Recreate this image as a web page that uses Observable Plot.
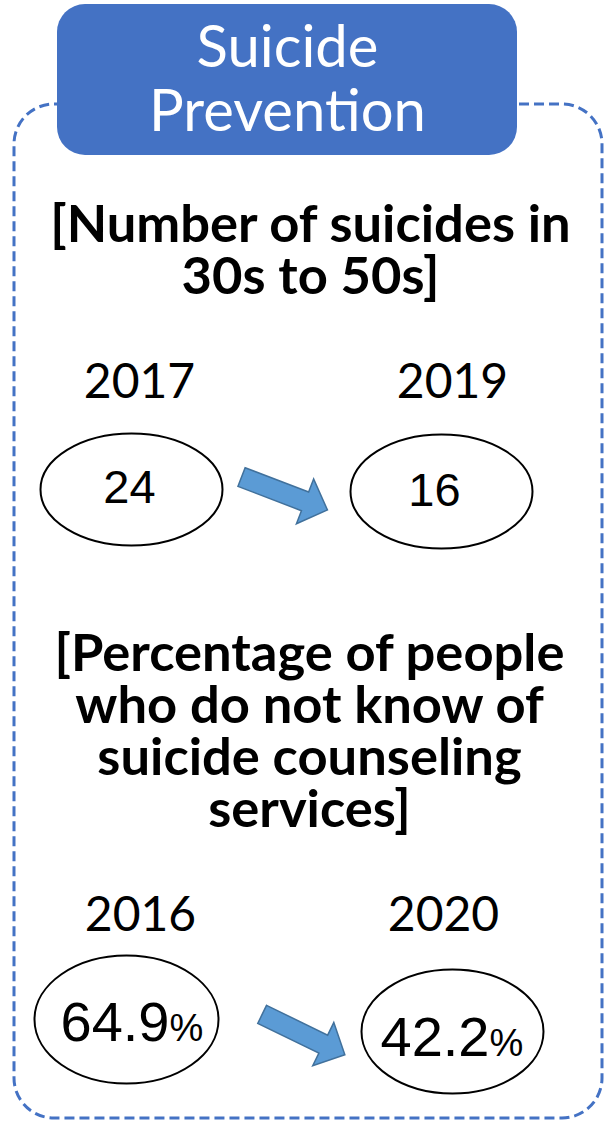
<!DOCTYPE html>
<html><head><meta charset="utf-8">
<script src="https://cdn.jsdelivr.net/npm/d3@7"></script>
<script src="https://cdn.jsdelivr.net/npm/@observablehq/plot@0.6"></script>
<style>html,body{margin:0;padding:0;background:#fff}</style>
</head><body><div id="chart"></div>
<script>
// ---- data ----
const titleLines = ["Suicide", "Prevention"];
const heading1 = ["[Number of suicides in", "30s to 50s]"];
const years1 = ["2017", "2019"];
const values1 = [24, 16];
const heading2 = ["[Percentage of people", "who do not know of", "suicide counseling", "services]"];
const years2 = ["2016", "2020"];
const values2 = [64.9, 42.2];

// ---- layout (pixels in a 606x1124 frame) ----
const W = 606, H = 1124;
const L = {
  frame: [{x1: 14, x2: 602, y1: 104, y2: 1118}],
  titleBox: [{x1: 57, x2: 517, y1: 4, y2: 155}],
  titleX: 287, titleY: [66, 130],
  h1X: 310, h1Y: [241, 293],
  yr1X: [139, 452], yr1Y: 397,
  e1: [{cx: 131, cy: 489, rx: 91, ry: 56}, {cx: 441, cy: 491, rx: 91, ry: 57}],
  v1X: [129, 434], v1Y: [502, 505],
  arrow1: {cx: 284, cy: 493, angle: 21},
  h2X: 309, h2Y: [670, 722, 774, 826],
  yr2X: [140, 443], yr2Y: 930,
  e2: [{cx: 126, cy: 1019, rx: 92, ry: 64}, {cx: 452, cy: 1031, rx: 91, ry: 62}],
  v2Split: [169, 489], v2Y: [1040, 1055],
  arrow2: {cx: 303, cy: 1034, angle: 26}
};

const BLUE = "#4472C4";
const headFont = "Lato", bodyFont = "Liberation Sans";

function ellipseSymbol(rx, ry) {
  const k = 0.5522847498;
  return {draw(ctx) {
    ctx.moveTo(rx, 0);
    ctx.bezierCurveTo(rx, k * ry, k * rx, ry, 0, ry);
    ctx.bezierCurveTo(-k * rx, ry, -rx, k * ry, -rx, 0);
    ctx.bezierCurveTo(-rx, -k * ry, -k * rx, -ry, 0, -ry);
    ctx.bezierCurveTo(k * rx, -ry, rx, -k * ry, rx, 0);
    ctx.closePath();
  }};
}
function blockArrowSymbol(len, shaft, head, headLen) {
  const a = len / 2, s = shaft / 2, h = head / 2, b = a - headLen;
  return {draw(ctx) {
    ctx.moveTo(-a, -s); ctx.lineTo(b, -s); ctx.lineTo(b, -h); ctx.lineTo(a, 0);
    ctx.lineTo(b, h); ctx.lineTo(b, s); ctx.lineTo(-a, s); ctx.closePath();
  }};
}

const ellipseMarks = (ells, vals) => ells.map((e, i) =>
  Plot.dot([vals[i]], {x: () => e.cx, y: () => e.cy, symbol: ellipseSymbol(e.rx, e.ry),
    fill: "white", stroke: "black", strokeWidth: 2}));

const arrowMark = (a) => Plot.dot([a], {x: () => a.cx, y: () => a.cy,
  symbol: blockArrowSymbol(92, 20, 48, 24), rotate: a.angle,
  fill: "#5B9BD5", stroke: "#41719C", strokeWidth: 1.5});

const chart = Plot.plot({
  width: W, height: H,
  margin: 0,
  x: {domain: [0, W], range: [0, W], axis: null},
  y: {domain: [0, H], range: [0, H], axis: null},
  style: {background: "white"},
  marks: [
    Plot.rect(L.frame, {x1: "x1", x2: "x2", y1: "y1", y2: "y2", rx: 40,
      fill: "none", stroke: BLUE, strokeWidth: 3, strokeDasharray: "10,5"}),
    Plot.rect(L.titleBox, {x1: "x1", x2: "x2", y1: "y1", y2: "y2", rx: 28, fill: BLUE}),
    Plot.text(titleLines, {x: () => L.titleX, y: (d, i) => L.titleY[i], text: d => d,
      lineAnchor: "bottom", fontSize: 58, fontFamily: headFont, fill: "white"}),
    Plot.text(heading1, {x: () => L.h1X, y: (d, i) => L.h1Y[i], text: d => d,
      lineAnchor: "bottom", fontSize: 52.5, fontWeight: "bold", fontFamily: headFont, fill: "black"}),
    Plot.text(years1, {x: (d, i) => L.yr1X[i], y: () => L.yr1Y, text: d => d,
      lineAnchor: "bottom", fontSize: 48, fontFamily: headFont, fill: "black"}),
    ...ellipseMarks(L.e1, values1),
    Plot.text(values1, {x: (d, i) => L.v1X[i], y: (d, i) => L.v1Y[i], text: d => String(d),
      lineAnchor: "bottom", fontSize: 47, fontFamily: bodyFont, fill: "black"}),
    arrowMark(L.arrow1),
    Plot.text(heading2, {x: () => L.h2X, y: (d, i) => L.h2Y[i], text: d => d,
      lineAnchor: "bottom", fontSize: 52.5, fontWeight: "bold", fontFamily: headFont, fill: "black"}),
    Plot.text(years2, {x: (d, i) => L.yr2X[i], y: () => L.yr2Y, text: d => d,
      lineAnchor: "bottom", fontSize: 48, fontFamily: headFont, fill: "black"}),
    ...ellipseMarks(L.e2, values2),
    Plot.text(values2, {x: (d, i) => L.v2Split[i], y: (d, i) => L.v2Y[i], text: d => d3.format(".1f")(d),
      lineAnchor: "bottom", textAnchor: "end", fontSize: 56, fontFamily: bodyFont, fill: "black"}),
    Plot.text(values2, {x: (d, i) => L.v2Split[i], y: (d, i) => L.v2Y[i], text: () => "%",
      lineAnchor: "bottom", textAnchor: "start", fontSize: 38, fontFamily: bodyFont, fill: "black"}),
    arrowMark(L.arrow2)
  ]
});
document.getElementById("chart").appendChild(chart);
</script>
</body></html>
